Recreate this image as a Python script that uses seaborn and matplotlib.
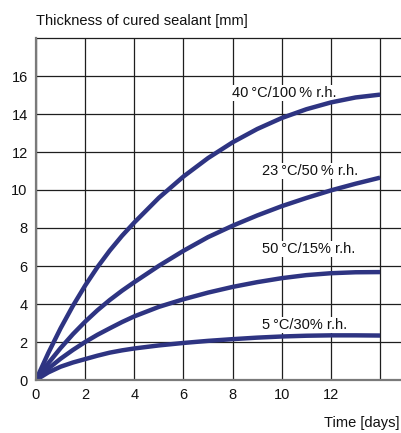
import matplotlib
matplotlib.use("Agg")
import matplotlib.pyplot as plt
import seaborn as sns
import pandas as pd

days = [0, 0.5, 1, 1.5, 2, 2.5, 3, 3.5, 4, 5, 6, 7, 8, 9, 10, 11, 12, 13, 14]
c40_100 = [0, 1.42, 2.72, 3.9, 4.97, 5.94, 6.81, 7.59, 8.29, 9.59, 10.71, 11.68, 12.51, 13.21, 13.79, 14.25, 14.61, 14.87, 15.02]
c23_50 = [0, 0.88, 1.68, 2.41, 3.07, 3.67, 4.21, 4.7, 5.15, 6.01, 6.8, 7.52, 8.12, 8.66, 9.15, 9.58, 9.98, 10.33, 10.65]
c50_15 = [0, 0.6, 1.12, 1.58, 2.0, 2.38, 2.72, 3.05, 3.35, 3.85, 4.25, 4.6, 4.9, 5.15, 5.36, 5.52, 5.62, 5.67, 5.68]
c5_30 = [0, 0.4, 0.7, 0.92, 1.1, 1.28, 1.44, 1.56, 1.66, 1.82, 1.95, 2.06, 2.15, 2.23, 2.29, 2.33, 2.35, 2.35, 2.34]

labels = ["40\u2009°C/100\u2009% r.h.", "23\u2009°C/50\u2009% r.h.", "50\u2009°C/15% r.h.", "5\u2009°C/30% r.h."]
series = [c40_100, c23_50, c50_15, c5_30]
label_pos = [(7.96, 15.12), (9.19, 11.0), (9.19, 6.88), (9.19, 2.89)]

xticks = [0, 2, 4, 6, 8, 10, 12]
xgrid = [0, 2, 4, 6, 8, 10, 12, 14]
yticks = [0, 2, 4, 6, 8, 10, 12, 14, 16]
ygrid = [2, 4, 6, 8, 10, 12, 14, 16]

rows = []
for lab, vals in zip(labels, series):
    for d, v in zip(days, vals):
        rows.append({"day": d, "thickness": v, "cond": lab})
df = pd.DataFrame(rows)

sns.set_theme(style="white")
plt.rcParams['font.family'] = ['Liberation Sans', 'DejaVu Sans']

fig = plt.figure(figsize=(4.01, 4.33), dpi=100)
ax = fig.add_axes([36/401, 1-380/433, 365/401, 342/433])

line_color = "#2e3482"
for x in xgrid:
    ax.axvline(x, color="#1e1e1e", lw=0.9, zorder=1)
for y in ygrid:
    ax.axhline(y, color="#1e1e1e", lw=0.9, zorder=1)

sns.lineplot(data=df, x="day", y="thickness", hue="cond", palette=[line_color]*4,
             legend=False, sort=False, lw=3.2, ax=ax, zorder=3,
             solid_capstyle="butt", solid_joinstyle="round")

for lab, (x, y) in zip(labels, label_pos):
    ax.text(x, y, lab, ha="left", va="center", fontsize=10.5, color="#111111",
            bbox=dict(facecolor="white", edgecolor="none", pad=0.8), zorder=2.5)

ax.set_xlim(0, 14.85)
ax.set_ylim(0, 18.0)
ax.set_xticks(xticks)
ax.set_yticks(yticks)
ax.set_xticklabels([str(t) for t in xticks])
ax.set_yticklabels([str(t) for t in yticks])
ax.tick_params(length=0, labelsize=10.5, colors="#111111", pad=6)
ax.set_xlabel("")
ax.set_ylabel("")

for s in ["left", "bottom"]:
    ax.spines[s].set_color("#7a7a7a")
    ax.spines[s].set_linewidth(1.6)
    ax.spines[s].set_zorder(5)
ax.spines["top"].set_color("#1e1e1e")
ax.spines["top"].set_linewidth(0.9)
ax.spines["right"].set_visible(False)

fig.text(36/401, 1-21/433, "Thickness of cured sealant [mm]", ha="left", va="center",
         fontsize=10.5, color="#111111")
fig.text(399/401, 1-423/433, "Time [days]", ha="right", va="center",
         fontsize=10.5, color="#111111")

fig.savefig("out.png", dpi=100)
